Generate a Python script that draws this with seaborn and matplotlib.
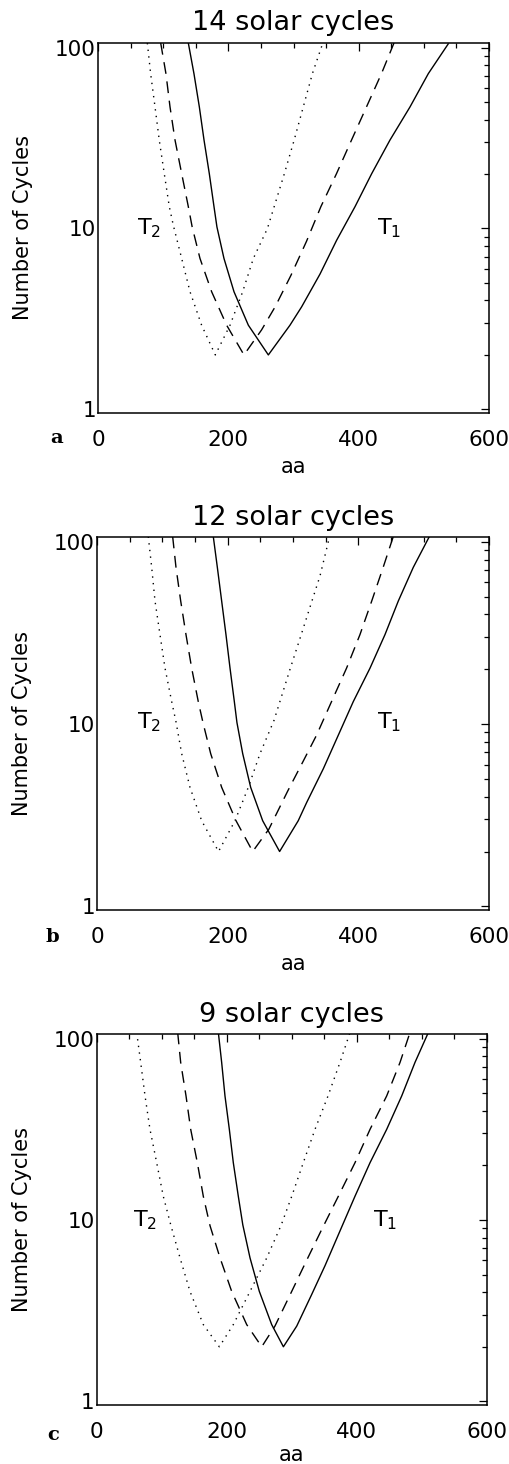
import numpy as np
import pandas as pd
import matplotlib
matplotlib.use("Agg")
import matplotlib.pyplot as plt
import seaborn as sns
from matplotlib.ticker import FixedLocator, MultipleLocator, NullFormatter, LogLocator

# ---------------- data ----------------
panel_titles = ["14 solar cycles", "12 solar cycles", "9 solar cycles"]
panel_letters = ["a", "b", "c"]
x_ticks = [0, 200, 400, 600]
y_ticks = [1, 10, 100]
y_ticklabels = ["1", "10", "100"]

# panel a : 14 solar cycles
a_solid_aa = [138.6, 147.3, 155.5, 162.7, 170.8, 178.0, 182.5, 193.3, 208.7, 230.7, 261.4,
              294.6, 312.5, 340.7, 366.2, 394.4, 420.0, 448.0, 478.8, 506.9, 537.6]
a_solid_n = [106, 71.6, 47.0, 30.8, 20.1, 13.2, 10.2, 6.83, 4.47, 2.92, 2.0,
             2.92, 3.69, 5.6, 8.61, 13.2, 20.1, 30.8, 47.0, 71.8, 105]
a_dash_aa = [96.2, 104.3, 110.5, 118.2, 128.4, 138.6, 144.5, 156.5, 174.4, 197.4, 224.0,
             251.0, 272.0, 296.0, 320.0, 342.0, 366.0, 389.0, 412.0, 435.0, 454.2]
a_dash_n = [106, 71.6, 47.0, 30.8, 20.1, 13.2, 10.2, 6.83, 4.47, 2.92, 2.0,
            2.75, 3.7, 5.5, 8.5, 13.2, 20.1, 30.8, 47.0, 71.8, 106]
a_dot_aa = [75.7, 80.8, 87.5, 94.0, 101.7, 109.4, 115.6, 128.4, 141.2, 159.0, 180.0,
            202.6, 222.0, 238.4, 260.0, 286.0, 301.0, 315.0, 329.0, 345.0]
a_dot_n = [106, 71.6, 47.0, 30.8, 20.1, 13.2, 10.4, 6.83, 4.47, 2.92, 2.0,
           2.92, 4.47, 6.83, 10.0, 20.1, 30.8, 47.0, 71.8, 106]

# panel b : 12 solar cycles
b_solid_aa = [178.0, 184.2, 190.8, 197.4, 203.6, 210.2, 214.2, 223.0, 235.2, 253.6, 279.5,
              308.0, 321.0, 346.4, 369.3, 392.3, 417.9, 440.8, 461.2, 484.1, 508.7]
b_solid_n = [107, 72.5, 47.4, 31.0, 20.3, 13.3, 10.2, 6.89, 4.5, 2.95, 2.0,
             2.95, 3.72, 5.69, 8.69, 13.3, 20.3, 31.0, 47.4, 72.5, 107]
b_dash_aa = [115.8, 120.9, 128.1, 136.2, 144.9, 155.0, 162.2, 174.0, 190.8, 212.8, 238.3,
             263.0, 292.0, 316.0, 336.0, 359.0, 382.0, 402.5, 420.5, 438.0, 453.5]
b_dash_n = [107, 72.5, 47.4, 31.0, 20.3, 13.3, 10.2, 6.89, 4.5, 2.95, 2.0,
            2.65, 4.3, 6.3, 8.69, 13.3, 20.3, 31.0, 47.4, 72.5, 107]
b_dot_aa = [78.5, 83.7, 88.8, 96.4, 104.1, 114.3, 120.9, 129.6, 142.3, 160.2, 186.0,
            211.2, 231.6, 249.5, 271.0, 296.0, 312.6, 329.0, 341.3, 356.0]
b_dot_n = [107, 72.5, 47.4, 31.0, 20.3, 13.3, 10.3, 6.89, 4.5, 2.95, 2.0,
           2.95, 4.5, 6.89, 10.5, 20.3, 31.0, 47.4, 65.0, 107]

# panel c : 9 solar cycles
c_solid_aa = [187.0, 192.1, 197.2, 203.9, 210.0, 217.7, 224.6, 235.7, 250.0, 269.0, 287.0,
              307.5, 330.0, 351.0, 374.0, 397.0, 420.2, 445.8, 468.9, 489.3, 509.8]
c_solid_n = [108, 73.9, 48.3, 31.6, 20.7, 13.5, 9.4, 6.18, 4.04, 2.65, 2.0,
             2.6, 3.85, 5.6, 8.7, 13.5, 20.7, 31.6, 48.3, 73.9, 108]
c_dash_aa = [124.5, 129.1, 137.3, 144.5, 154.7, 163.9, 174.2, 189.6, 207.5, 230.6, 253.7,
             274.0, 299.8, 322.8, 345.9, 371.4, 397.1, 420.2, 445.8, 466.3, 481.6]
c_dash_n = [108, 73.9, 48.3, 31.6, 20.7, 13.5, 9.3, 6.18, 4.04, 2.65, 2.0,
            2.6, 4.04, 6.0, 8.86, 13.5, 20.7, 31.6, 48.3, 73.9, 108]
c_dot_aa = [61.5, 67.6, 74.3, 81.9, 92.2, 102.4, 114.0, 128.1, 143.4, 163.9, 188.5,
            210.0, 235.7, 261.4, 283.5, 299.8, 317.6, 335.6, 355.6, 374.0, 389.4]
c_dot_n = [108, 73.9, 48.3, 31.6, 20.7, 13.5, 9.35, 6.18, 4.04, 2.65, 2.0,
           2.65, 4.04, 6.18, 9.35, 13.5, 20.7, 31.6, 48.3, 73.9, 108]

panels = [
    [(a_solid_aa, a_solid_n), (a_dash_aa, a_dash_n), (a_dot_aa, a_dot_n)],
    [(b_solid_aa, b_solid_n), (b_dash_aa, b_dash_n), (b_dot_aa, b_dot_n)],
    [(c_solid_aa, c_solid_n), (c_dash_aa, c_dash_n), (c_dot_aa, c_dot_n)],
]
t2_pos = [(60, 10.0), (61, 10.2), (56, 10.0)]
t1_pos = [(428, 10.0), (428, 10.2), (425, 10.0)]

# ---------------- styling ----------------
sns.set_theme(style="white")
plt.rcParams['font.family'] = ['DejaVu Sans']
plt.rcParams['mathtext.default'] = 'regular'

W, H = 509, 1464
fig = plt.figure(figsize=(W / 100, H / 100), dpi=100)
fig.patch.set_facecolor('white')

# axes boxes in pixels: left, right, top, bottom
boxes = [(98, 489, 43, 413), (97, 489, 537.3, 910), (96.7, 487, 1034, 1405)]
letter_pos = [(50, 443), (46, 942), (47, 1440)]
xlabel_y = [-0.118, -0.118, -0.108]

styles = ['-', (0, (8.5, 5.5)), (0, (1.0, 3.8))]

for i, (l, r, t, b) in enumerate(boxes):
    ax = fig.add_axes([l / W, 1 - b / H, (r - l) / W, (b - t) / H])
    ax.set_facecolor('white')
    ax.set_yscale('log')
    for (xs, ys), ls in zip(panels[i], styles):
        df = pd.DataFrame({'aa': xs, 'n': ys})
        sns.lineplot(data=df, x='aa', y='n', ax=ax, color='black', linewidth=1.0,
                     linestyle=ls, sort=False, estimator=None, legend=False)
    ax.set_xlim(0, 600)
    ax.set_ylim(0.955, 106)
    ax.xaxis.set_major_locator(FixedLocator(x_ticks))
    ax.set_xticklabels([str(v) for v in x_ticks])
    ax.xaxis.set_minor_locator(MultipleLocator(50))
    ax.yaxis.set_major_locator(FixedLocator(y_ticks))
    ax.set_yticklabels(y_ticklabels)
    ax.yaxis.set_minor_locator(LogLocator(base=10, subs=np.arange(2, 10)))
    ax.yaxis.set_minor_formatter(NullFormatter())
    ax.tick_params(axis='both', which='major', direction='in', top=True, right=True,
                   length=6, width=0.9, color='black', labelsize=15.5, labelcolor='black')
    ax.tick_params(axis='both', which='minor', direction='in', top=True, right=True,
                   length=3.5, width=0.9, color='black')
    ax.tick_params(axis='x', which='major', pad=12.5)
    ax.tick_params(axis='y', which='major', pad=1.5)
    for sp in ax.spines.values():
        sp.set_visible(True)
        sp.set_color('black')
        sp.set_linewidth(1.1)
    ax.set_xlabel('aa', fontsize=15, color='black')
    ax.set_ylabel('Number of Cycles', fontsize=15, color='black')
    ax.xaxis.set_label_coords(0.5, xlabel_y[i])
    ax.yaxis.set_label_coords(-0.165, 0.5)
    ax.set_title(panel_titles[i], fontsize=19.5, color='black', pad=9)
    ax.text(t2_pos[i][0], t2_pos[i][1], r'$\mathregular{T_2}$', fontsize=16,
            ha='left', va='center', color='black')
    ax.text(t1_pos[i][0], t1_pos[i][1], r'$\mathregular{T_1}$', fontsize=16,
            ha='left', va='center', color='black')
    lx, ly = letter_pos[i]
    fig.text(lx / W, 1 - ly / H, panel_letters[i], fontsize=14, fontweight='bold',
             family='DejaVu Serif', ha='left', va='baseline', color='black')

fig.savefig('out.png', dpi=100, facecolor='white')
